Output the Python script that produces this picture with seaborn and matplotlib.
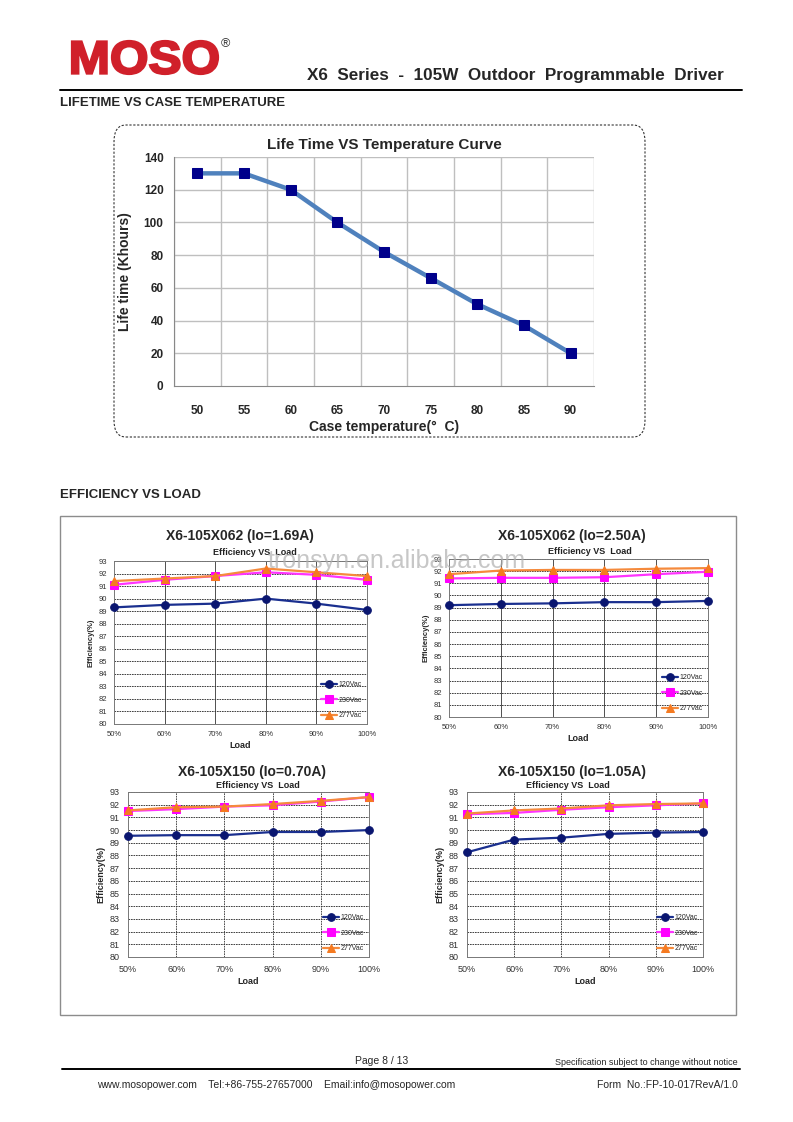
"""
MOSO X6 datasheet page 8: lifetime and efficiency curves
"""
import pandas as pd
import matplotlib
matplotlib.use('Agg')
import matplotlib.pyplot as plt
import seaborn as sns
from matplotlib.patches import FancyBboxPatch, Rectangle, PathPatch
from matplotlib.lines import Line2D
from matplotlib.textpath import TextPath
from matplotlib.font_manager import FontProperties
from matplotlib.transforms import Affine2D

sns.set_style("white")
plt.rcParams['font.family'] = ['Liberation Sans', 'DejaVu Sans']

W, H = 793, 1122

# ---- data ----
case_temp = [50, 55, 60, 65, 70, 75, 80, 85, 90]
life_khours = [130, 130, 120, 100, 82, 66, 50, 37, 20]

load_pct = [50, 60, 70, 80, 90, 100]
supplies = ['120Vac', '230Vac', '277Vac']

titles = ['X6-105X062 (Io=1.69A)', 'X6-105X062 (Io=2.50A)',
          'X6-105X150 (Io=0.70A)', 'X6-105X150 (Io=1.05A)']

eff_062_169_120 = [89.3, 89.5, 89.6, 90.0, 89.6, 89.1]
eff_062_169_230 = [91.1, 91.5, 91.8, 92.1, 91.9, 91.5]
eff_062_169_277 = [91.4, 91.6, 91.8, 92.4, 92.1, 91.8]

eff_062_250_120 = [89.2, 89.3, 89.35, 89.45, 89.45, 89.55]
eff_062_250_230 = [91.4, 91.45, 91.45, 91.5, 91.75, 91.95]
eff_062_250_277 = [91.75, 92.05, 92.1, 92.1, 92.2, 92.25]

eff_150_070_120 = [89.55, 89.6, 89.6, 89.85, 89.85, 90.0]
eff_150_070_230 = [91.5, 91.65, 91.85, 91.95, 92.25, 92.6]
eff_150_070_277 = [91.55, 91.8, 91.85, 92.05, 92.3, 92.6]

eff_150_105_120 = [88.25, 89.25, 89.4, 89.7, 89.8, 89.85]
eff_150_105_230 = [91.25, 91.35, 91.6, 91.8, 91.95, 92.1]
eff_150_105_277 = [91.3, 91.55, 91.7, 91.95, 92.05, 92.1]

eff_sets = [
    [eff_062_169_120, eff_062_169_230, eff_062_169_277],
    [eff_062_250_120, eff_062_250_230, eff_062_250_277],
    [eff_150_070_120, eff_150_070_230, eff_150_070_277],
    [eff_150_105_120, eff_150_105_230, eff_150_105_277],
]

line_colors = {'120Vac': '#1a2f8f', '230Vac': '#ff33ff', '277Vac': '#f58a3c'}
marker_colors = {'120Vac': '#0a1670', '230Vac': '#ff00ff', '277Vac': '#f57a20'}
markers = {'120Vac': 'o', '230Vac': 's', '277Vac': '^'}


def box(l, t, r, b):
    return [l / W, 1 - b / H, (r - l) / W, (b - t) / H]


def fy(y):
    return 1 - y / H


def fx(x):
    return x / W


fig = plt.figure(figsize=(W / 100, H / 100), dpi=100)
fig.patch.set_facecolor('white')

# ---- page header ----
# logo: bold text path fitted into the logo box, outlined to make it heavier
logo = TextPath((0, 0), 'MOSO', size=1,
                prop=FontProperties(family='Liberation Sans', weight='bold'))
ext = logo.get_extents()
logo_tf = (Affine2D().translate(-ext.x0, -ext.y0)
           .scale(146 / ext.width / W, 33 / ext.height / H)
           .translate(fx(72), fy(74)))
fig.add_artist(PathPatch(logo, transform=logo_tf + fig.transFigure,
                         fc='#d0202a', ec='#d0202a', lw=1.6, joinstyle='miter'))
fig.text(fx(221), fy(47), '®', color='#333333', fontsize=9, ha='left', va='baseline')
fig.text(fx(724), fy(80), 'X6  Series  -  105W  Outdoor  Programmable  Driver',
         fontsize=12.3, fontweight='bold', ha='right', va='baseline')
fig.add_artist(Line2D([fx(60), fx(742)], [fy(90), fy(90)], color='black', lw=1.4))
fig.text(fx(60), fy(106), 'LIFETIME VS CASE TEMPERATURE', fontsize=9.5,
         fontweight='bold', ha='left', va='baseline')

# dashed rounded frame around lifetime chart
frame = FancyBboxPatch((fx(114), fy(437)), fx(645) - fx(114), fy(125) - fy(437),
                       boxstyle='round,pad=0,rounding_size=0.015',
                       transform=fig.transFigure, fill=False,
                       ec='#333333', lw=0.8, ls=(0, (2, 1.5)))
fig.add_artist(frame)

# ---- lifetime chart ----
ax = fig.add_axes(box(174, 157, 594, 386))
df_life = pd.DataFrame({'temp': case_temp, 'life': life_khours})
sns.lineplot(data=df_life, x='temp', y='life', ax=ax, color='#4f81bd', lw=3.2,
             marker='s', markersize=7, markerfacecolor='#00008b',
             markeredgecolor='#00008b', zorder=3)
ax.set_xlim(47.5, 92.5)
ax.set_ylim(0, 140)
ax.set_yticks(range(0, 141, 20))
ax.set_xticks(case_temp)
ax.set_xticks([t - 2.5 for t in case_temp] + [92.5], minor=True)
ax.grid(False)
for v in range(20, 141, 20):
    ax.axhline(v, color='#bfbfbf', lw=1, zorder=1)
for t in [t - 2.5 for t in case_temp] + [92.5]:
    ax.axvline(t, color='#bfbfbf', lw=1, zorder=1)
for s in ['top', 'right']:
    ax.spines[s].set_visible(False)
ax.spines['left'].set_color('#888888')
ax.spines['bottom'].set_color('#888888')
ax.tick_params(axis='x', which='major', length=0, pad=14, labelsize=8.5)
ax.tick_params(axis='x', which='minor', length=5, color='#888888', direction='out')
ax.tick_params(axis='y', length=4, color='#888888', labelsize=8.5)
for lab in ax.get_xticklabels() + ax.get_yticklabels():
    lab.set_fontweight('bold')
ax.set_xlabel('Case temperature(°  C)', fontsize=10, fontweight='bold', labelpad=2)
ax.set_ylabel('Life time (Khours)', fontsize=10, fontweight='bold')
ax.yaxis.set_label_coords(-0.1, 0.5)
ax.set_title('Life Time VS Temperature Curve', fontsize=11, fontweight='bold', pad=6)

# ---- efficiency section ----
fig.text(fx(60), fy(498), 'EFFICIENCY VS LOAD', fontsize=9.5, fontweight='bold',
         ha='left', va='baseline')
fig.add_artist(Rectangle((fx(60), fy(1015)), fx(736) - fx(60), fy(516) - fy(1015),
                         transform=fig.transFigure, fill=False, ec='#8c8c8c', lw=1))

eff_boxes = [(114, 561, 367, 724), (449, 559, 708, 717),
             (128, 792, 369, 957), (467, 792, 703, 957)]
title_pos = [(240, 540), (572, 540), (252, 776), (572, 776)]
inner_pos = [(255, 555), (590, 554), (258, 788), (568, 788)]

for i, (b, eff) in enumerate(zip(eff_boxes, eff_sets)):
    ax = fig.add_axes(box(*b))
    df = pd.DataFrame({'load': load_pct * 3,
                       'eff': eff[0] + eff[1] + eff[2],
                       'supply': [s for s in supplies for _ in load_pct]})
    for s in supplies:
        sub = df[df['supply'] == s]
        sns.lineplot(data=sub, x='load', y='eff', ax=ax, color=line_colors[s],
                     lw=1.6, marker=markers[s], markersize=5.5,
                     markerfacecolor=marker_colors[s], markeredgecolor=marker_colors[s],
                     label=s, zorder=3, clip_on=False)
    ax.set_xlim(50, 100)
    ax.set_ylim(80, 93)
    ax.set_xticks(load_pct)
    ax.set_xticklabels([f'{v}%' for v in load_pct])
    ax.set_yticks(range(80, 94))
    big = i >= 2
    ax.grid(False)
    for v in range(81, 94):
        ax.axhline(v, color='#222222', lw=0.6, ls=(0, (2, 1)), zorder=1)
    for x in load_pct[1:-1]:
        ax.axvline(x, color='#333333', lw=0.6, ls=(0, (2, 1)) if big else '-', zorder=1)
    for s in ax.spines.values():
        s.set_color('#777777')
        s.set_linewidth(0.7)
    ax.tick_params(length=0, labelsize=6.5 if big else 5.5, pad=6 if big else 5,
                   colors='#333333')
    ax.set_xlabel('Load', fontsize=6.5, fontweight='bold', labelpad=2)
    ax.set_ylabel('Efficiency(%)', fontsize=6.5 if big else 5.5, fontweight='bold', labelpad=3)
    ax.legend(loc='lower right', frameon=False, fontsize=5, handlelength=2.4,
              labelspacing=1.2, borderaxespad=0.3, handletextpad=0.2)
    tx, ty = title_pos[i]
    fig.text(fx(tx), fy(ty), titles[i], fontsize=10, fontweight='bold',
             ha='center', va='baseline')
    ix, iy = inner_pos[i]
    fig.text(fx(ix), fy(iy), 'Efficiency VS  Load', fontsize=6.5, fontweight='bold',
             ha='center', va='baseline', color='#222222')

# watermark across the top two charts, as on the scanned page
fig.text(fx(268), fy(568), 'tronsyn.en.alibaba.com', fontsize=18, color='#b0b0b0',
         alpha=0.7, ha='left', va='baseline', zorder=10)

# ---- footer ----
fig.text(fx(355), fy(1064), 'Page 8 / 13', fontsize=7.5, ha='left', va='baseline')
fig.text(fx(738), fy(1065), 'Specification subject to change without notice',
         fontsize=6.5, ha='right', va='baseline')
fig.add_artist(Line2D([fx(62), fx(740)], [fy(1069), fy(1069)], color='black', lw=1.4))
fig.text(fx(97), fy(1088), 'www.mosopower.com    Tel:+86-755-27657000    Email:info@mosopower.com',
         fontsize=7.5, ha='left', va='baseline')
fig.text(fx(738), fy(1088), 'Form  No.:FP-10-017RevA/1.0', fontsize=7.5,
         ha='right', va='baseline')

fig.savefig('out.png', dpi=100)
